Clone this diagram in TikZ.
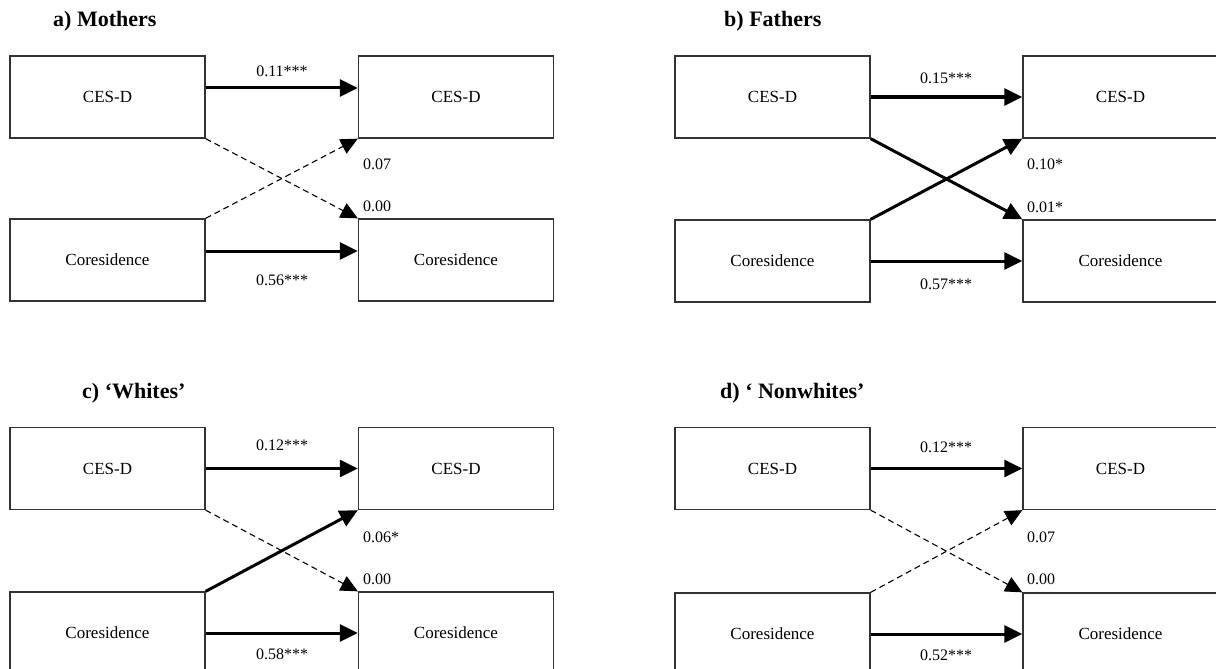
\documentclass[tikz,border=0pt]{standalone}
\usepackage{fontspec}
\setmainfont{Liberation Serif}
\usetikzlibrary{arrows.meta}

\tikzset{
  varbox/.style={draw=black!80, line width=1.3pt, minimum width=195pt, minimum height=82pt, inner sep=0pt, font=\fontsize{17}{20}\selectfont},
  sigpath/.style={line width=3pt, -{Triangle[length=18pt,width=17pt]}},
  nspath/.style={line width=1.1pt, dash pattern=on 6pt off 4pt, -{Triangle[length=17pt,width=16pt]}},
  coef/.style={font=\fontsize{16}{18}\selectfont, inner sep=0pt},
  paneltitle/.style={font=\fontsize{22}{24}\selectfont\bfseries, anchor=west, inner sep=0pt}
}

\begin{document}
\begin{tikzpicture}[x=1pt,y=-1pt]
        \useasboundingbox (0,0) rectangle (1216,669);

        % a) mothers
        \node[paneltitle] (ta) at (53,21) {a) Mothers};
        \node[varbox] (a1) at (107.5,97) {CES-D};
        \node[varbox] (a2) at (456,97) {CES-D};
        \node[varbox] (a3) at (107.5,260) {Coresidence};
        \node[varbox] (a4) at (456,260) {Coresidence};
        \draw[sigpath] ([yshift=9pt]a1.east) -- ([yshift=9pt]a2.west);
        \draw[sigpath] ([yshift=9pt]a3.east) -- ([yshift=9pt]a4.west);
        \draw[nspath] (a1.south east) -- (a4.north west);
        \draw[nspath] (a3.north east) -- (a2.south west);
        \node[coef] (ka1) at (282,71) {0.11***};
        \node[coef] (ka2) at (282,280) {0.56***};
        \node[coef,anchor=west] (ka3) at (363,164) {0.07};
        \node[coef,anchor=west] (ka4) at (363,206) {0.00};

        % b) fathers
        \node[paneltitle] (tb) at (724,21) {b) Fathers};
        \node[varbox] (b1) at (772.5,97) {CES-D};
        \node[varbox] (b2) at (1120.5,97) {CES-D};
        \node[varbox] (b3) at (772.5,261) {Coresidence};
        \node[varbox] (b4) at (1120.5,261) {Coresidence};
        \draw[sigpath] (b1) -- (b2);
        \draw[sigpath] (b3) -- (b4);
        \draw[sigpath] (b1.south east) -- (b4.north west);
        \draw[sigpath] (b3.north east) -- (b2.south west);
        \node[coef] (kb1) at (946,78) {0.15***};
        \node[coef] (kb2) at (946,284) {0.57***};
        \node[coef,anchor=west] (kb3) at (1027,164) {0.10*};
        \node[coef,anchor=west] (kb4) at (1027,207) {0.01*};

        % c) whites
        \node[paneltitle] (tc) at (82,393) {c) ‘Whites’};
        \node[varbox] (c1) at (107.5,468.5) {CES-D};
        \node[varbox] (c2) at (456,468.5) {CES-D};
        \node[varbox] (c3) at (107.5,633) {Coresidence};
        \node[varbox] (c4) at (456,633) {Coresidence};
        \draw[sigpath] (c1) -- (c2);
        \draw[sigpath] (c3) -- (c4);
        \draw[nspath] (c1.south east) -- (c4.north west);
        \draw[sigpath] (c3.north east) -- (c2.south west);
        \node[coef] (kc1) at (282,445) {0.12***};
        \node[coef] (kc2) at (282,654) {0.58***};
        \node[coef,anchor=west] (kc3) at (363,537) {0.06*};
        \node[coef,anchor=west] (kc4) at (363,579) {0.00};

        % d) nonwhites
        \node[paneltitle] (td) at (720,393) {d) ‘ Nonwhites’};
        \node[varbox] (d1) at (772.5,468.5) {CES-D};
        \node[varbox] (d2) at (1120.5,468.5) {CES-D};
        \node[varbox] (d3) at (772.5,634) {Coresidence};
        \node[varbox] (d4) at (1120.5,634) {Coresidence};
        \draw[sigpath] (d1) -- (d2);
        \draw[sigpath] (d3) -- (d4);
        \draw[nspath] (d1.south east) -- (d4.north west);
        \draw[nspath] (d3.north east) -- (d2.south west);
        \node[coef] (kd1) at (946,447) {0.12***};
        \node[coef] (kd2) at (946,655) {0.52***};
        \node[coef,anchor=west] (kd3) at (1027,537) {0.07};
        \node[coef,anchor=west] (kd4) at (1027,579) {0.00};

    \end{tikzpicture}
\end{document}
